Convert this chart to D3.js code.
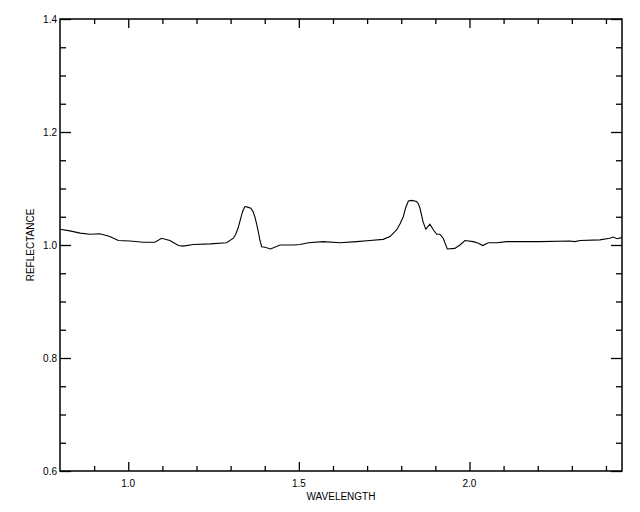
<!DOCTYPE html>
<html><head><meta charset="utf-8">
<script src="https://cdn.jsdelivr.net/npm/d3@7"></script>
<style>
html,body{margin:0;padding:0;background:#fff;}
text{font-family:"Liberation Sans",Arial,sans-serif;font-size:10px;fill:#000;}
</style></head>
<body>
<svg id="c" width="640" height="512"></svg>
<script>
const wavelength = [0.800,0.829,0.859,0.888,0.917,0.946,0.971,1.005,1.044,1.078,1.098,1.122,1.147,1.161,1.191,1.240,1.288,1.308,1.315,1.322,1.332,1.337,1.342,1.350,1.359,1.365,1.371,1.376,1.381,1.386,1.391,1.401,1.417,1.445,1.484,1.503,1.528,1.571,1.620,1.669,1.708,1.747,1.767,1.787,1.797,1.806,1.813,1.821,1.830,1.845,1.850,1.855,1.864,1.872,1.884,1.894,1.904,1.913,1.923,1.935,1.957,1.972,1.987,2.011,2.026,2.039,2.055,2.080,2.109,2.206,2.294,2.309,2.324,2.382,2.411,2.421,2.433,2.446];
const reflectance = [1.028,1.025,1.021,1.019,1.020,1.015,1.008,1.007,1.005,1.005,1.012,1.008,0.999,0.998,1.001,1.002,1.004,1.012,1.019,1.030,1.053,1.062,1.068,1.067,1.065,1.060,1.050,1.038,1.024,1.008,0.997,0.996,0.993,1.000,1.000,1.001,1.004,1.006,1.004,1.006,1.008,1.010,1.015,1.027,1.038,1.050,1.066,1.078,1.079,1.077,1.073,1.065,1.041,1.028,1.037,1.027,1.019,1.019,1.012,0.993,0.994,1.000,1.008,1.006,1.003,0.999,1.004,1.004,1.006,1.006,1.007,1.006,1.008,1.009,1.012,1.014,1.011,1.013];
const xMajor = [1.0,1.5,2.0];
const xMinor = [0.9,1.1,1.2,1.3,1.4,1.6,1.7,1.8,1.9,2.1,2.2,2.3,2.4];
const yMajor = [0.6,0.8,1.0,1.2,1.4];
const yMinor = [0.65,0.7,0.75,0.85,0.9,0.95,1.05,1.1,1.15,1.25,1.3,1.35];
const xTitle = "WAVELENGTH", yTitle = "REFLECTANCE";

const L=60,R=622,T=19,B=471;
const svg=d3.select("#c");
const x=d3.scaleLinear().domain([0.8,2.447]).range([L,R]);
const y=d3.scaleLinear().domain([0.6,1.4]).range([B,T]);
const fmt=d3.format(".1f");

function styleAxis(g){g.select(".domain").remove();g.selectAll("line").attr("stroke","#000").attr("stroke-width",1.3);}
svg.append("g").attr("transform",`translate(0,${B})`).call(d3.axisTop(x).tickValues(xMajor).tickSize(9).tickFormat("")).call(styleAxis);
svg.append("g").attr("transform",`translate(0,${B})`).call(d3.axisTop(x).tickValues(xMinor).tickSize(5).tickFormat("")).call(styleAxis);
svg.append("g").attr("transform",`translate(0,${T})`).call(d3.axisBottom(x).tickValues(xMajor).tickSize(9).tickFormat("")).call(styleAxis);
svg.append("g").attr("transform",`translate(0,${T})`).call(d3.axisBottom(x).tickValues(xMinor).tickSize(5).tickFormat("")).call(styleAxis);
svg.append("g").attr("transform",`translate(${L},0)`).call(d3.axisRight(y).tickValues(yMajor).tickSize(11).tickFormat("")).call(styleAxis);
svg.append("g").attr("transform",`translate(${L},0)`).call(d3.axisRight(y).tickValues(yMinor).tickSize(6).tickFormat("")).call(styleAxis);
svg.append("g").attr("transform",`translate(${R},0)`).call(d3.axisLeft(y).tickValues(yMajor).tickSize(11).tickFormat("")).call(styleAxis);
svg.append("g").attr("transform",`translate(${R},0)`).call(d3.axisLeft(y).tickValues(yMinor).tickSize(6).tickFormat("")).call(styleAxis);

svg.append("rect").attr("x",L).attr("y",T).attr("width",R-L).attr("height",B-T).attr("fill","none").attr("stroke","#000").attr("stroke-width",1.5);

svg.selectAll(".xl").data(xMajor).enter().append("text").attr("x",d=>x(d)).attr("y",B+16).attr("text-anchor","middle").text(fmt);
svg.selectAll(".yl").data(yMajor).enter().append("text").attr("x",L-3).attr("y",d=>y(d)+3.5).attr("text-anchor","end").text(fmt);
svg.append("text").attr("x",(L+R)/2).attr("y",500).attr("text-anchor","middle").text(xTitle);
svg.append("text").attr("transform",`translate(34,${(T+B)/2}) rotate(-90)`).attr("text-anchor","middle").text(yTitle);

const data=wavelength.map((w,i)=>[w,reflectance[i]]);
svg.append("path").datum(data).attr("fill","none").attr("stroke","#000").attr("stroke-width",1.1)
  .attr("d",d3.line().x(d=>x(d[0])).y(d=>y(d[1])));
</script>
</body></html>
